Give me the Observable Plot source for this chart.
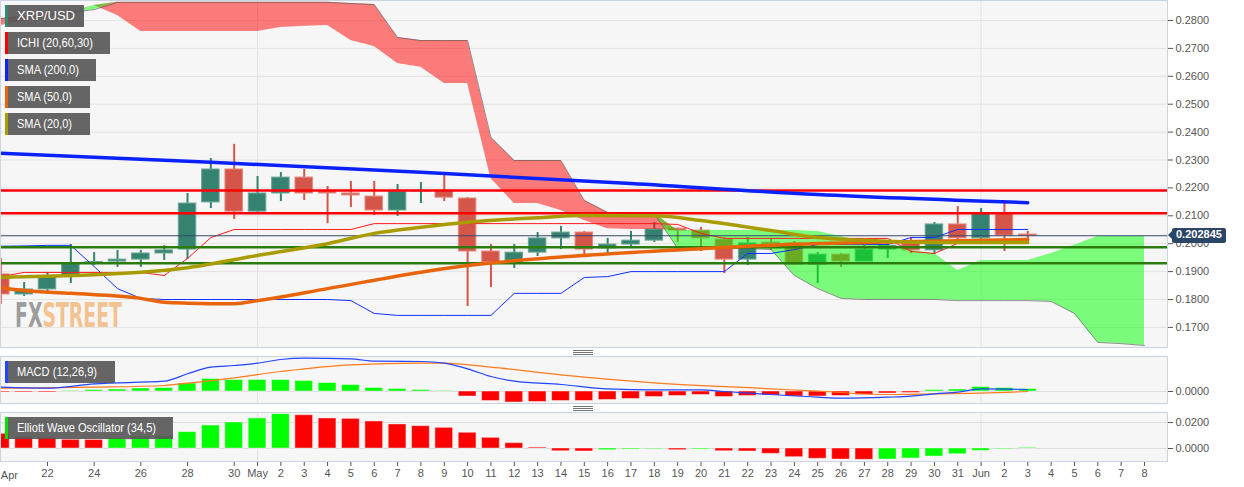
<!DOCTYPE html>
<html><head><meta charset="utf-8">
<script src="https://cdn.jsdelivr.net/npm/d3@7"></script>
<script src="https://cdn.jsdelivr.net/npm/@observablehq/plot@0.6"></script>
<style>
body{margin:0;background:#fff;}
#wrap{position:relative;width:1244px;height:487px;overflow:hidden;font-family:"Liberation Sans",Arial,sans-serif;}
.pane{position:absolute;left:0;}
.leg{position:absolute;left:5px;height:22px;line-height:22px;background:rgba(88,88,88,0.92);color:#fff;font-size:13px;padding-left:9px;box-sizing:border-box;border-left:3px solid;white-space:nowrap;overflow:hidden;}
.leg span{display:inline-block;transform-origin:0 50%;}
.price{position:absolute;left:1172px;height:15px;line-height:15px;padding:0 4px;background:#2b4566;color:#fff;font:bold 11px "Liberation Sans",Arial,sans-serif;border-radius:2px;}
.price:before{content:"";position:absolute;left:-4px;top:3.5px;border-top:4px solid transparent;border-bottom:4px solid transparent;border-right:4px solid #2b4566;}
.grip{position:absolute;left:573px;width:20px;height:5px;background:linear-gradient(#777 0 1px,transparent 1px 2px,#777 2px 3px,transparent 3px 4px,#777 4px 5px);}
</style></head><body><div id="wrap"></div>
<script>
// ---------- DATA ----------
// day index: 0 = 20 Apr 2019
const tickDays = [0,2,4,6,8,10,11,12,13,14,15,16,17,18,19,20,21,22,23,24,25,26,27,28,29,30,31,32,33,34,35,36,37,38,39,40,41,42,43,44,45,46,47,48,49];
const tickLabels = ["Apr","22","24","26","28","30","May","2","3","4","5","6","7","8","9","10","11","12","13","14","15","16","17","18","19","20","21","22","23","24","25","26","27","28","29","30","31","Jun","2","3","4","5","6","7","8"];

const open  = [0.1890,0.1818,0.1836,0.1882,0.1930,0.1936,0.1943,0.1965,0.1979,0.2148,0.2266,0.2115,0.2180,0.2237,0.2187,0.2180,0.2169,0.2119,0.2187,0.2190,0.2162,0.1972,0.1933,0.1968,0.2019,0.2040,0.1983,0.1997,0.2011,0.2054,0.2047,0.2015,0.1943,0.2004,0.2001,0.1925,0.1961,0.1936,0.1979,0.2004,0.1976,0.2069,0.2019,0.2108,0.2033];
const high  = [0.1947,0.1861,0.1897,0.1997,0.1968,0.1976,0.1976,0.1993,0.2180,0.2305,0.2356,0.2241,0.2255,0.2266,0.2205,0.2223,0.2223,0.2212,0.2219,0.2252,0.2165,0.1997,0.1997,0.2040,0.2062,0.2044,0.2019,0.2044,0.2076,0.2056,0.2058,0.2022,0.2022,0.2019,0.2008,0.1968,0.1965,0.1994,0.2004,0.2022,0.2076,0.2133,0.2126,0.2144,0.2044];
const low   = [0.1782,0.1811,0.1825,0.1857,0.1922,0.1915,0.1915,0.1940,0.1943,0.2126,0.2087,0.2112,0.2151,0.2155,0.2072,0.2130,0.2101,0.2098,0.2144,0.2151,0.1775,0.1843,0.1911,0.1954,0.1979,0.1958,0.1961,0.1986,0.2004,0.2004,0.1972,0.1893,0.1922,0.1976,0.1922,0.1857,0.1915,0.1936,0.1947,0.1965,0.1961,0.2011,0.2011,0.1972,0.2001];
const close = [0.1818,0.1836,0.1882,0.1929,0.1934,0.1943,0.1965,0.1976,0.2144,0.2266,0.2115,0.2180,0.2237,0.2180,0.2180,0.2173,0.2119,0.2187,0.2190,0.2165,0.1972,0.1933,0.1968,0.2019,0.2040,0.1979,0.1997,0.2011,0.2051,0.2047,0.2019,0.1943,0.2001,0.1997,0.1925,0.1961,0.1936,0.1979,0.1993,0.1976,0.2069,0.2019,0.2108,0.2029,0.2028];

// Ichimoku cloud spans (day 0..49)
const spanA = [0.2782,0.2796,0.2811,0.2825,0.2854,0.2818,0.2761,0.2761,0.2761,0.2761,0.2761,0.2761,0.2775,0.2779,0.2782,0.2728,0.2707,0.2646,0.2632,0.2574,0.2574,0.2234,0.2144,0.2144,0.2119,0.2083,0.2054,0.2051,0.2051,0.2047,0.2047,0.2047,0.2047,0.2047,0.2047,0.2044,0.2026,0.2004,0.1994,0.1976,0.1965,0.1904,0.1940,0.1940,0.1940,0.1965,0.1994,0.2026,0.2026,0.2026];
const spanB = [0.2807,0.2814,0.2822,0.2829,0.2839,0.2865,0.2865,0.2865,0.2865,0.2865,0.2865,0.2865,0.2865,0.2865,0.2865,0.2861,0.2857,0.2739,0.2728,0.2728,0.2728,0.2381,0.2298,0.2298,0.2298,0.2155,0.2112,0.2108,0.2108,0.1983,0.1983,0.1983,0.1983,0.1979,0.1886,0.1839,0.1804,0.1800,0.1800,0.1800,0.1800,0.1796,0.1796,0.1796,0.1796,0.1793,0.1750,0.1646,0.1642,0.1635];
const tenkan = [0.1882,0.1897,0.1897,0.1897,0.1897,0.1897,0.1897,0.1886,0.1947,0.2022,0.2051,0.2051,0.2051,0.2051,0.2051,0.2051,0.2072,0.2072,0.2072,0.2072,0.2072,0.2072,0.2072,0.2072,0.2072,0.2072,0.2072,0.2072,0.2072,0.2069,0.2037,0.2019,0.2019,0.2019,0.2019,0.2019,0.2019,0.2019,0.2019,0.1972,0.1965,0.2001,0.2008,0.2008,0.2008];
const kijun  = [0.1991,0.1992,0.1994,0.1994,0.1918,0.1839,0.1804,0.1800,0.1800,0.1800,0.1800,0.1800,0.1800,0.1800,0.1800,0.1796,0.1750,0.1743,0.1743,0.1743,0.1743,0.1743,0.1822,0.1822,0.1822,0.1879,0.1882,0.1900,0.1900,0.1900,0.1900,0.1900,0.1965,0.1965,0.1979,0.1997,0.1997,0.1997,0.1997,0.2022,0.2022,0.2051,0.2051,0.2051,0.2051];

const sma200Days = [0,9,18,27,35,44];
const sma200 = [0.2324,0.2292,0.2256,0.2216,0.2176,0.2147];
const sma50Days = [0,1,3,6,7,8,10,11,14,18,20,24,30,35,38,44];
const sma50 = [0.1842,0.1832,0.1822,0.1804,0.1790,0.1787,0.1785,0.1796,0.1839,0.1898,0.1922,0.1952,0.1982,0.2001,0.2006,0.2015];
const sma20Days = [0,6,8,11,14,16,18,20,23,25,28,30,33,35,37,40,44];
const sma20 = [0.1880,0.1898,0.1914,0.1958,0.2000,0.2037,0.2059,0.2077,0.2093,0.2101,0.2100,0.2083,0.2047,0.2022,0.2012,0.2004,0.2004];

const resistance = [0.2191,0.2109];
const support = [0.1987,0.1930];
const lastPrice = 0.202845;
const priceTicks = [0.17,0.18,0.19,0.20,0.21,0.22,0.23,0.24,0.25,0.26,0.27,0.28];

const macdHist = [-0.0002,-0.0002,-0.0002,0.0001,0.0003,0.0004,0.0006,0.0007,0.0016,0.0025,0.0023,0.0023,0.0023,0.0021,0.0017,0.0013,0.0007,0.0005,0.0003,0.0001,-0.0010,-0.0019,-0.0022,-0.0021,-0.0019,-0.0019,-0.0017,-0.0015,-0.0011,-0.0009,-0.0007,-0.0011,-0.0009,-0.0008,-0.0010,-0.0010,-0.0009,-0.0007,-0.0004,-0.0003,0.0003,0.0004,0.0009,0.0007,0.0005];
const macdDays = [0,2,4,7,8,9,10,11,12,13,15,16,18,19,20,21,22,24,26,28,30,31,33,35,36,38,39,40,41,42,44];
const macdLine = [0.00086,0.00066,0.00154,0.00206,0.00354,0.00486,0.0052,0.00566,0.0064,0.00666,0.00654,0.00606,0.006,0.00566,0.00454,0.003,0.00206,0.0014,0.00054,0.00034,0.00034,0,-0.0006,-0.00114,-0.00134,-0.00114,-0.00094,-0.00046,-0.00014,0.00054,0.0004];
const signalDays = [0,4,7,8,10,12,15,18,19,21,24,28,33,35,38,40,42,44];
const signalLine = [0.00066,0.00086,0.0012,0.00166,0.00274,0.004,0.00534,0.00566,0.00566,0.00486,0.00334,0.00174,0.00054,0.00006,-0.0006,-0.00046,-0.00034,0];

const ewo = [0.0113,0.0087,0.0082,0.0067,0.0066,0.0075,0.0090,0.0095,0.0126,0.0177,0.0200,0.0231,0.0264,0.0256,0.0231,0.0228,0.0208,0.0185,0.0172,0.0159,0.0121,0.0082,0.0041,0.0008,-0.0021,-0.0023,-0.0013,-0.0008,-0.0005,-0.0013,-0.0008,-0.0021,-0.0023,-0.0041,-0.0067,-0.0079,-0.0085,-0.0087,-0.0085,-0.0077,-0.0062,-0.0044,-0.0018,-0.0005,0.0005];

// ---------- SETUP ----------
const W = 1244, MR = 77;
const xDomain = [-0.3/23.34, (1167-0.32)/23.34];
const monthStarts = [11, 42];
const BG = "#f6f6f6", BORDER = "#cdd4e1", GRID = "#e3e3e3";
const UP = "#34826f", DOWN = "#d45648";
const style = {fontFamily:'"Liberation Sans",Arial,sans-serif', fontSize:"11px", background:"transparent", overflow:"visible"};
const wrap = document.getElementById("wrap");

function place(node, top) { const d = document.createElement("div"); d.className = "pane"; d.style.top = top + "px"; d.appendChild(node); wrap.appendChild(d); return d; }

const candles = open.map((o,i)=>({d:i, open:o, high:high[i], low:low[i], close:close[i]}));
const cColor = c => c.close >= c.open ? UP : DOWN;
const cEdge = c => c.close >= c.open ? "#6fa898" : "#e58b80";
const cloud = spanA.map((a,i)=>({d:i, a, b:spanB[i]}));

// ---------- MAIN PANE ----------
const main = Plot.plot({
  width: W, height: 348, marginTop: 0, marginBottom: 1, marginLeft: 0, marginRight: MR,
  style,
  x: {domain: xDomain, axis: null},
  y: {domain: [0.28 - 327/2790, 0.28 + 20/2790], axis: null},
  color: {type: "identity"},
  marks: [
    Plot.frame({fill: BG}),
    Plot.ruleY(priceTicks, {stroke: GRID}),
    Plot.ruleX(monthStarts, {stroke: GRID}),
    Plot.ruleX(candles, {x: "d", y1: "low", y2: "high", stroke: cColor, strokeWidth: 2, clip: true}),
    Plot.rect(candles, {x1: c=>c.d-0.375, x2: c=>c.d+0.375, y1: "open", y2: "close", fill: cColor, stroke: cEdge, strokeWidth: 1, clip: true}),
    Plot.areaY(cloud, {x: "d", y1: "a", y2: c=>Math.max(c.a,c.b), fill: "#ff0000", fillOpacity: 0.5, clip: true}),
    Plot.areaY(cloud, {x: "d", y1: "b", y2: c=>Math.max(c.a,c.b), fill: "#00ff00", fillOpacity: 0.5, clip: true}),
    Plot.line(cloud, {x: "d", y: "b", stroke: "#555", strokeWidth: 0.8, strokeOpacity: 0.8, clip: true}),
    Plot.line(tenkan, {x: (v,i)=>i, y: v=>v, stroke: "#ff1a1a", strokeWidth: 1, clip: true}),
    Plot.line(kijun, {x: (v,i)=>i, y: v=>v, stroke: "#1030ff", strokeWidth: 1, clip: true}),
    Plot.ruleY([lastPrice], {stroke: "#34496b", strokeWidth: 1}),
    Plot.ruleY(resistance, {stroke: "#ff0000", strokeWidth: 2.5}),
    Plot.ruleY(support, {stroke: "#2a7d0c", strokeWidth: 2.5}),
    Plot.line(sma50, {x: sma50Days, y: sma50, stroke: "#e8650c", strokeWidth: 3.5, curve: "monotone-x", clip: true}),
    Plot.line(sma20, {x: sma20Days, y: sma20, stroke: "#a99c00", strokeWidth: 3.5, curve: "monotone-x", clip: true}),
    Plot.line(sma200, {x: sma200Days, y: sma200, stroke: "#0a22ff", strokeWidth: 3.5, curve: "monotone-x", clip: true}),
    Plot.axisY({anchor: "right", ticks: priceTicks, tickFormat: d3.format(".4f"), tickSize: 5, tickPadding: 3, color: "#555", fontSize: 11}),
    Plot.frame({stroke: BORDER})
  ]
});
place(main, 0);

// watermark FXSTREET inside main svg under the marks
(function(){
  const svg = main.tagName.toLowerCase() === "svg" ? main : main.querySelector("svg");
  const ns = "http://www.w3.org/2000/svg";
  const t = document.createElementNS(ns, "text");
  t.setAttribute("x", 15); t.setAttribute("y", 327);
  t.setAttribute("text-anchor", "start");
  t.setAttribute("textLength", 107); t.setAttribute("lengthAdjust", "spacingAndGlyphs");
  t.setAttribute("font-family", '"DejaVu Sans Condensed","Liberation Sans Narrow",sans-serif');
  t.setAttribute("font-weight", "bold"); t.setAttribute("font-size", "34");
  const a = document.createElementNS(ns, "tspan"); a.setAttribute("fill", "#9d9d9d"); a.textContent = "FX";
  const b = document.createElementNS(ns, "tspan"); b.setAttribute("fill", "#f2c291"); b.textContent = "STREET";
  t.appendChild(a); t.appendChild(b);
  const kids = svg.children;
  let ref = null;
  for (let i = 0; i < kids.length; i++) { if (kids[i].tagName === "rect") { ref = kids[i].nextSibling; break; } }
  svg.insertBefore(t, ref);
})();

// price label
const yMain = main.scale("y");
const pl = document.createElement("div");
pl.className = "price"; pl.textContent = lastPrice.toFixed(6);
pl.style.top = (yMain.apply(lastPrice) - 7.5) + "px";
wrap.appendChild(pl);

// ---------- MACD PANE ----------
const macd = Plot.plot({
  width: W, height: 48, marginTop: 0, marginBottom: 1, marginLeft: 0, marginRight: MR,
  style,
  x: {domain: xDomain, axis: null},
  y: {domain: [-0.0024, 0.007], axis: null},
  color: {type: "identity"},
  marks: [
    Plot.frame({fill: BG}),
    Plot.ruleX(monthStarts, {stroke: GRID}),
    Plot.ruleY([0], {stroke: "#dcdcdc"}),
    Plot.rect(macdHist, {x1: (v,i)=>i-0.38, x2: (v,i)=>i+0.38, y1: 0, y2: v=>v, fill: v=> v >= 0 ? "#00ff00" : "#ff0000", stroke: "#fff", strokeOpacity: 0.45, strokeWidth: 1, clip: true}),
    Plot.line(signalLine, {x: signalDays, y: signalLine, stroke: "#ff7a1a", strokeWidth: 1.2, curve: "monotone-x", clip: true}),
    Plot.line(macdLine, {x: macdDays, y: macdLine, stroke: "#2244ff", strokeWidth: 1.2, curve: "monotone-x", clip: true}),
    Plot.axisY({anchor: "right", ticks: [0], tickFormat: d3.format(".4f"), tickSize: 5, tickPadding: 3, color: "#555", fontSize: 11}),
    Plot.frame({stroke: BORDER})
  ]
});
place(macd, 356);

// ---------- EWO PANE ----------
const ewoColor = ewo.map((v,i)=> i > 0 && v > ewo[i-1] ? "#00ff00" : "#ff0000");
const labelOf = new Map(tickDays.map((d,i)=>[d, tickLabels[i]]));
const ewoPlot = Plot.plot({
  width: W, height: 75, marginTop: 0, marginBottom: 26, marginLeft: 0, marginRight: MR,
  style,
  x: {domain: xDomain, axis: null},
  y: {domain: [-0.01, 0.02 + 10/1300], axis: null},
  color: {type: "identity"},
  marks: [
    Plot.frame({fill: BG}),
    Plot.ruleX(monthStarts, {stroke: GRID}),
    Plot.ruleY([0, 0.02], {stroke: "#dcdcdc"}),
    Plot.rect(ewo, {x1: (v,i)=>i-0.38, x2: (v,i)=>i+0.38, y1: 0, y2: v=>v, fill: (v,i)=>ewoColor[i], stroke: "#fff", strokeOpacity: 0.45, strokeWidth: 1, clip: true}),
    Plot.axisY({anchor: "right", ticks: [0, 0.02], tickFormat: d3.format(".4f"), tickSize: 5, tickPadding: 3, color: "#555", fontSize: 11}),
    Plot.axisX({anchor: "bottom", ticks: tickDays.slice(1), tickFormat: d => labelOf.get(d), tickSize: 5, tickPadding: 3, color: "#555", fontSize: 11}),
    Plot.text([tickLabels[0]], {x: [tickDays[0]], frameAnchor: "bottom", dy: 14, textAnchor: "start", lineAnchor: "middle", fill: "#555", fontSize: 11}),
    Plot.frame({stroke: BORDER})
  ]
});
place(ewoPlot, 412);

// ---------- LEGENDS ----------
const legends = [
  {t: "XRP/USD", c: "#2f8a74", top: 5, w: 79, tw: 58},
  {t: "ICHI (20,60,30)", c: "#ff0000", top: 32, w: 105, tw: 76},
  {t: "SMA (200,0)", c: "#0a22ff", top: 59, w: 91, tw: 62},
  {t: "SMA (50,0)", c: "#e8650c", top: 86, w: 85, tw: 55},
  {t: "SMA (20,0)", c: "#a99c00", top: 113, w: 85, tw: 55},
  {t: "MACD (12,26,9)", c: "#2244ff", top: 361, w: 110, tw: 80},
  {t: "Elliott Wave Oscillator (34,5)", c: "#00e000", top: 417, w: 168, tw: 139}
];
for (const l of legends) {
  const d = document.createElement("div");
  d.className = "leg";
  d.style.top = l.top + "px"; d.style.width = l.w + "px"; d.style.borderLeftColor = l.c;
  const s = document.createElement("span"); s.textContent = l.t;
  d.appendChild(s);
  wrap.appendChild(d);
  const actual = s.getBoundingClientRect().width;
  if (actual > 0) s.style.transform = `scaleX(${(l.tw / actual).toFixed(3)})`;
}
for (const top of [350, 406]) {
  const g = document.createElement("div"); g.className = "grip"; g.style.top = top + "px"; wrap.appendChild(g);
}
</script></body></html>
